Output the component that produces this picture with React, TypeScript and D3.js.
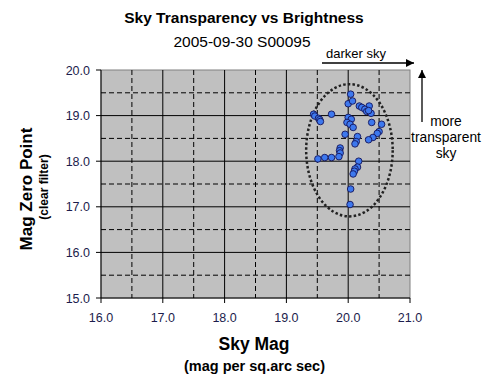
import React from "react";
import * as d3 from "d3";

const skyMag = [20.04, 20.0, 20.07, 20.18, 20.22, 20.34, 20.27, 20.3, 20.37, 20.33, 19.44, 19.46, 19.52, 19.54, 19.55, 19.73, 20.0, 20.05, 19.98, 20.03, 20.08, 20.38, 20.54, 20.5, 20.47, 20.4, 20.33, 19.95, 20.15, 20.13, 20.11, 19.87, 19.86, 19.87, 19.85, 19.73, 19.62, 19.51, 20.17, 20.15, 20.11, 20.1, 20.08, 20.04, 20.03];
const zeroPoint = [19.47, 19.26, 19.32, 19.21, 19.18, 19.21, 19.14, 19.09, 19.05, 19.11, 19.03, 18.99, 18.94, 18.91, 18.87, 19.03, 18.96, 18.92, 18.85, 18.81, 18.74, 18.85, 18.81, 18.65, 18.61, 18.52, 18.47, 18.59, 18.54, 18.43, 18.38, 18.29, 18.23, 18.18, 18.1, 18.08, 18.08, 18.05, 18.0, 17.87, 17.83, 17.78, 17.72, 17.39, 17.05];
const xTicks = [16, 17, 18, 19, 20, 21];
const yTicks = [15, 16, 17, 18, 19, 20];
const xMinor = [16.5, 17.5, 18.5, 19.5, 20.5];
const yMinor = [15.5, 16.5, 17.5, 18.5, 19.5];
const ellipseCenter = [20.02, 18.24];
const ellipseRadii = [0.7, 1.45];

const W = 487, H = 391;
const left = 101, right = 410, top = 70, bottom = 298;
const font = "Arial, 'Liberation Sans', sans-serif";
const tickColor = "#1c1c4c";

export default function App() {
  const x = d3.scaleLinear().domain([16, 21]).range([left, right]);
  const y = d3.scaleLinear().domain([15, 20]).range([bottom, top]);
  const ecx = x(ellipseCenter[0]);
  const ecy = y(ellipseCenter[1]);
  const erx = x(ellipseCenter[0] + ellipseRadii[0]) - ecx;
  const ery = ecy - y(ellipseCenter[1] + ellipseRadii[1]);
  return (
    <svg width={W} height={H} style={{ position: "absolute", left: 0, top: 0, background: "#fff" }} fontFamily={font}>
      <defs>
        <marker id="ah" viewBox="0 0 10 10" refX="10" refY="5" markerWidth="9" markerHeight="8" markerUnits="userSpaceOnUse" orient="auto">
          <path d="M0,0 L10,5 L0,10 z" fill="#000" />
        </marker>
      </defs>
      <rect width={W} height={H} fill="#fff" />
      <text x={244} y={23} textAnchor="middle" fontWeight="bold" fontSize={15.5}>Sky Transparency vs Brightness</text>
      <text x={242} y={47} textAnchor="middle" fontSize={15.5}>2005-09-30 S00095</text>
      <rect x={left} y={top} width={right - left} height={bottom - top} fill="#c0c0c0" stroke="#808080" />
      {xMinor.map((v) => (
        <line key={"xm" + v} x1={x(v)} x2={x(v)} y1={top} y2={bottom} stroke="#000" strokeDasharray="5,3" />
      ))}
      {yMinor.map((v) => (
        <line key={"ym" + v} x1={left} x2={right} y1={y(v)} y2={y(v)} stroke="#000" strokeDasharray="5,3" />
      ))}
      {xTicks.slice(1, -1).map((v) => (
        <line key={"xg" + v} x1={x(v)} x2={x(v)} y1={top} y2={bottom} stroke="#000" />
      ))}
      {yTicks.slice(1, -1).map((v) => (
        <line key={"yg" + v} x1={left} x2={right} y1={y(v)} y2={y(v)} stroke="#000" />
      ))}
      <line x1={left} x2={left} y1={top} y2={bottom} stroke="#000" />
      <line x1={left} x2={right} y1={bottom} y2={bottom} stroke="#000" />
      {xTicks.map((v) => (
        <g key={"xt" + v}>
          <line x1={x(v)} x2={x(v)} y1={bottom} y2={bottom + 5} stroke="#000" />
          <text x={x(v)} y={322} textAnchor="middle" fontSize={12.5} fill={tickColor}>{v.toFixed(1)}</text>
        </g>
      ))}
      {yTicks.map((v) => (
        <g key={"yt" + v}>
          <line x1={left - 5} x2={left} y1={y(v)} y2={y(v)} stroke="#000" />
          <text x={90} y={y(v) + 4.5} textAnchor="end" fontSize={12.5} fill={tickColor}>{v.toFixed(1)}</text>
        </g>
      ))}
      <ellipse cx={ecx} cy={ecy} rx={erx} ry={ery} fill="none" stroke="#222" strokeWidth={2.5} strokeDasharray="2.5,2.2" />
      {skyMag.map((v, i) => (
        <circle key={"p" + i} cx={x(v)} cy={y(zeroPoint[i])} r={3.3} fill="#3d78ee" stroke="#14145a" strokeWidth={0.9} />
      ))}
      <text x={254} y={350} textAnchor="middle" fontWeight="bold" fontSize={17.5}>Sky Mag</text>
      <text x={254.5} y={371} textAnchor="middle" fontWeight="bold" fontSize={14.5}>(mag per sq.arc sec)</text>
      <text transform={`translate(32,189) rotate(-90)`} textAnchor="middle" fontWeight="bold" fontSize={17}>Mag Zero Point</text>
      <text transform={`translate(48,187) rotate(-90)`} textAnchor="middle" fontWeight="bold" fontSize={12}>(clear filter)</text>
      <text x={356} y={58} textAnchor="middle" fontSize={13}>darker sky</text>
      <line x1={322} x2={414} y1={63} y2={63} stroke="#000" strokeWidth={1.3} markerEnd="url(#ah)" />
      <line x1={422} x2={422} y1={122} y2={70} stroke="#000" strokeWidth={1.3} markerEnd="url(#ah)" />
      <text x={446} y={126} textAnchor="middle" fontSize={13.8}>more</text>
      <text x={446} y={142} textAnchor="middle" fontSize={13.8}>transparent</text>
      <text x={446} y={158} textAnchor="middle" fontSize={13.8}>sky</text>
    </svg>
  );
}
